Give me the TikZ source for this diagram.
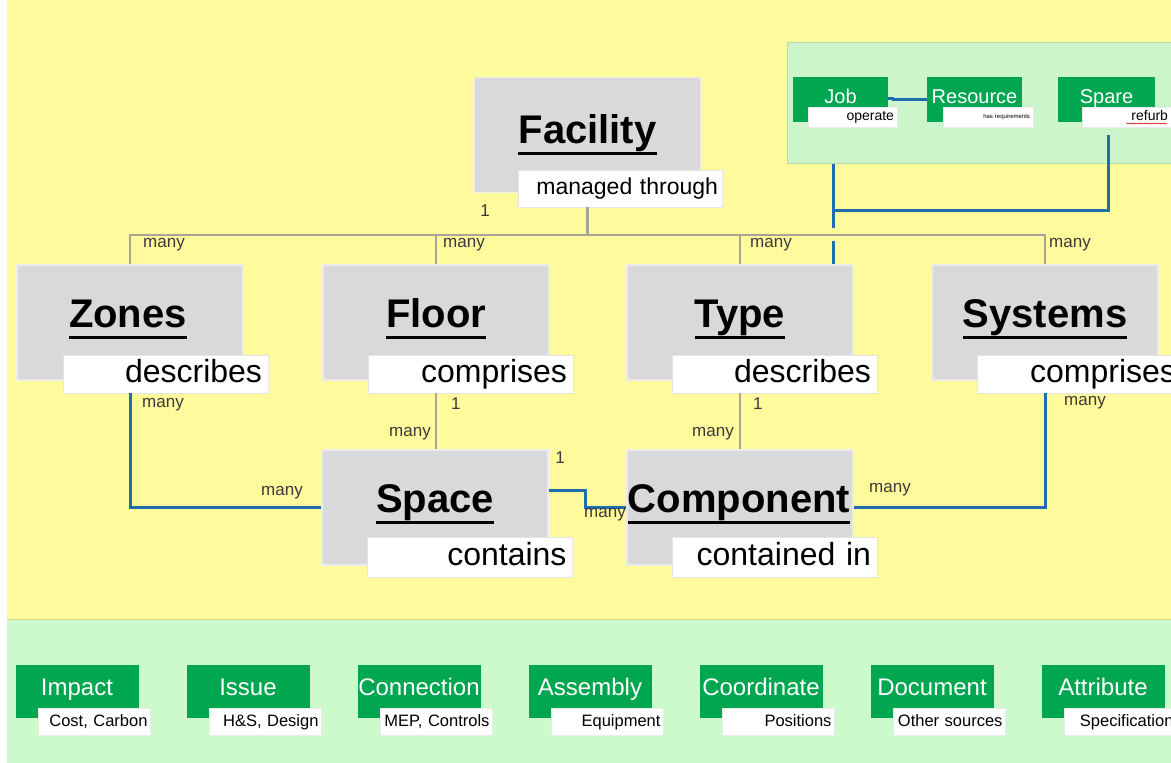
\documentclass[tikz,border=0pt]{standalone}
\usepackage{fontspec}
\setmainfont{Liberation Sans}
\usetikzlibrary{decorations.pathmorphing}

\definecolor{bgyellow}{HTML}{FFFA9C}
\definecolor{bggreen}{HTML}{CCFACC}
\definecolor{panelgreen}{HTML}{CDF5CB}
\definecolor{panelrim}{HTML}{B5DDB0}
\definecolor{cardgreen}{HTML}{00A650}
\definecolor{boxgray}{HTML}{D9D9DB}
\definecolor{boxrim}{HTML}{ECECEE}
\definecolor{linegray}{HTML}{A8A49A}
\definecolor{lineblue}{HTML}{1E6EAF}
\definecolor{multcol}{HTML}{3A3A3A}

\begin{document}
\begin{tikzpicture}[x=1pt,y=-1pt,
  entity/.style={fill=boxgray, draw=boxrim, line width=1.2pt,
    minimum width=226pt, minimum height=115pt, inner sep=0pt},
  ttl/.style={font=\fontsize{40}{40}\selectfont\bfseries, inner sep=0pt, anchor=base},
  uline/.style={draw=black, line width=3pt},
  rel/.style={fill=white, draw=black!10, line width=0.6pt, minimum height=38pt,
    text width=193pt, align=right, inner xsep=6pt, inner ysep=0pt,
    text height=24pt, text depth=7pt, font=\fontsize{32}{32}\selectfont},
  card/.style={fill=cardgreen, text=white, inner sep=0pt,
    text height=16pt, text depth=8pt},
  bigcard/.style={card, minimum width=123pt, minimum height=53pt,
    font=\fontsize{24}{24}\selectfont},
  smallcard/.style={card, minimum height=45pt,
    text height=15pt, text depth=7pt, font=\fontsize{20}{20}\selectfont},
  tag/.style={fill=white, draw=black!8, line width=0.4pt, align=right,
    inner xsep=3pt, inner ysep=0pt},
  bigtag/.style={tag, minimum height=27pt, text width=106pt,
    text height=13pt, text depth=4pt, font=\fontsize{16.5}{16.5}\selectfont},
  smalltag/.style={tag, minimum height=20pt,
    text height=10pt, text depth=3pt, font=\fontsize{14}{14}\selectfont},
  mult/.style={font=\fontsize{17}{17}\selectfont, text=multcol, inner sep=0pt},
  grayline/.style={draw=linegray, line width=2.5pt},
  blueline/.style={draw=lineblue, line width=3pt}]

\useasboundingbox (0,0) rectangle (1171,763);

% backgrounds
\fill[white] (0,0) rectangle (1171,763);
\fill[bgyellow] (7,0) rectangle (1171,619);
\fill[bggreen] (7,619) rectangle (1171,763);
\draw[color=bgyellow!85!black, line width=1pt] (7,619) -- (1171,619);

% facility
\node[entity] (fac) at (587.5,135) {};
\node[ttl] (facT) at (587.5,143) {Facility};
\node[rel, minimum height=37pt, text width=196pt, inner xsep=4pt,
  text height=17pt, text depth=5pt, font=\fontsize{23}{23}\selectfont]
  (facL) at (620,188.5) {managed\ through};

% second row
\node[entity] (zones) at (130,322.5) {};
\node[ttl] (zonesT) at (128,327) {Zones};
\node[rel] (zonesL) at (165.5,374) {describes};

\node[entity] (floor) at (436,322.5) {};
\node[ttl] (floorT) at (436,327) {Floor};
\node[rel] (floorL) at (470.5,374) {comprises};

\node[entity] (type) at (740,322.5) {};
\node[ttl] (typeT) at (740,327) {Type};
\node[rel] (typeL) at (774.5,374) {describes};

\node[entity] (systems) at (1045,322.5) {};
\node[ttl] (systemsT) at (1045,327) {Systems};
\node[rel] (systemsL) at (1079.5,374) {comprises};

% third row
\node[entity] (space) at (435,507.5) {};
\node[ttl] (spaceT) at (435,512) {Space};
\node[rel, minimum height=40pt] (spaceL) at (470,557) {contains};

\node[entity] (component) at (740,507.5) {};
\node[ttl] (componentT) at (739,512) {Component};
\node[rel, minimum height=40pt] (componentL) at (774.5,557) {contained in};

% title underlines
\foreach \t in {facT,zonesT,floorT,typeT,systemsT,spaceT,componentT}
  \draw[uline] ([yshift=-10pt]\t.base west) -- ([yshift=-10pt]\t.base east);

% operations panel
\node[fill=panelgreen, draw=panelrim, line width=1pt, minimum width=390pt,
  minimum height=121pt, inner sep=0pt] (panel) at (982,102.5) {};
\node[smallcard, minimum width=95pt] (job) at (840.5,99.5) {Job};
\node[smalltag, minimum width=89pt, text width=83pt] (jobL) at (852.5,117) {operate};
\node[smallcard, minimum width=95pt] (resource) at (974.5,99.5) {Resource};
\node[smalltag, minimum width=90pt, text width=84pt, font=\fontsize{6}{6}\selectfont,
  text height=5pt, text depth=1.5pt] (resourceL) at (988,117) {has requirements};
\node[smallcard, minimum width=97pt] (spare) at (1106.5,99.5) {Spare};
\node[smalltag, minimum width=89pt, text width=83pt] (spareL) at (1126.5,117) {refurb};
\draw[red!80!black, line width=0.5pt, decorate,
  decoration={snake, amplitude=0.5pt, segment length=2.5pt}]
  ([xshift=-45pt,yshift=-6.5pt]spareL.east) -- ([xshift=-4pt,yshift=-6.5pt]spareL.east);
\draw[blueline, line width=2.5pt] (job.east) ++(0,-1) -- ++(5,0) |- (resource.west);

% bottom catalogue of supporting entities
\foreach \n/\a/\b [count=\i from 0] in {impact/Impact/{Cost, Carbon},
    issue/Issue/{H\&S, Design}, connection/Connection/{MEP, Controls},
    assembly/Assembly/Equipment, coordinate/Coordinate/Positions,
    document/Document/Other sources, attribute/Attribute/Specification}{
  \node[bigcard] (\n) at (77+171*\i,691.5) {\a};
  \node[bigtag, minimum width=112pt] (\n L) at (94.5+171*\i,721.5) {\b};
}

% Facility to the second row
\coordinate (bus) at (587.5,235);
\draw[grayline] (fac.south |- facL.south) -- (bus);
\draw[grayline] (bus) -| (zones.north);
\draw[grayline] (bus) -| (floor.north);
\draw[grayline] (bus) -| (type.north);
\draw[grayline] (bus) -| (systems.north);

% Floor/Space and Type/Component
\draw[grayline] (floor.south |- floorL.south) -- (floor.south |- space.north);
\draw[grayline] (type.south |- typeL.south) -- (type.south |- component.north);

% operations links onto Type
\coordinate (jt) at (833,210);
\coordinate (gapA) at (833,228);
\coordinate (gapB) at (833,241);
\coordinate (spareDrop) at (1108,135);
\draw[blueline] (gapA |- panel.south) -- (gapA);
\draw[blueline] (gapB) -- (gapB |- type.north);
\draw[blueline] (jt) -| (spareDrop);

% Zones/Space, Space/Component, Component/Systems
\draw[blueline] (zones.south |- zonesL.south) |- (space.west);
\draw[blueline] (space.east) ++(0,-17) -- ++(37,0) |- (component.west);
\draw[blueline] (component.east) -| (systems.south |- systemsL.south);

% multiplicities
\node[mult] (m1) at (485,211) {1};
\node[mult, anchor=west] (m2) at (143,245) {many};
\node[mult, anchor=west] (m3) at (443,245) {many};
\node[mult, anchor=west] (m4) at (750,245) {many};
\node[mult, anchor=west] (m5) at (1049,245) {many};
\node[mult, anchor=west] (m6) at (142,405) {many};
\node[mult, anchor=east] (m7) at (303,493) {many};
\node[mult, anchor=west] (m8) at (451,404) {1};
\node[mult, anchor=east] (m9) at (431,434) {many};
\node[mult, anchor=west] (m10) at (753,404) {1};
\node[mult, anchor=east] (m11) at (734,434) {many};
\node[mult] (m12) at (560,458) {1};
\node[mult] (m13) at (605,515) {many};
\node[mult] (m14) at (890,490) {many};
\node[mult] (m15) at (1085,403) {many};
\end{tikzpicture}
\end{document}
